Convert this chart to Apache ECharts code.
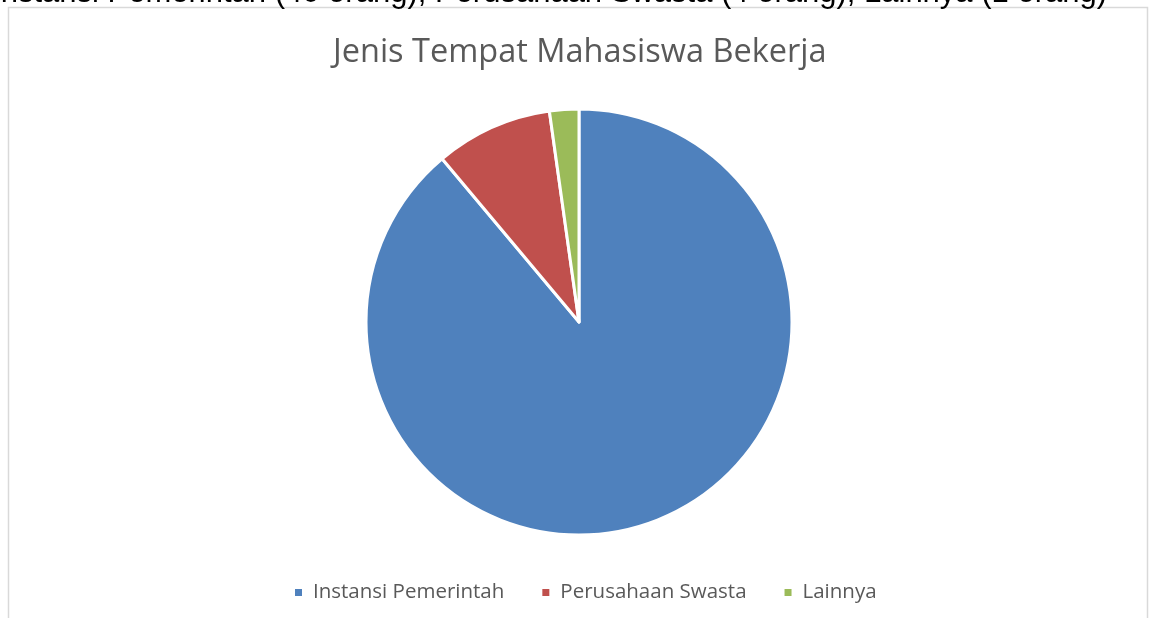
<!DOCTYPE html>
<html>
<head>
<meta charset="utf-8">
<script src="https://cdn.jsdelivr.net/npm/echarts@6/dist/echarts.min.js"></script>
<style>
html, body { margin: 0; padding: 0; background: #fff; }
#chart { width: 1149px; height: 618px; }
</style>
</head>
<body>
<div id="chart"></div>
<script>
// data
const categories = ["Instansi Pemerintah", "Perusahaan Swasta", "Lainnya"];
const values = [40, 4, 1];
const colors = ["#4f81bd", "#c0504d", "#9bbb59"];
const titleText = "Jenis Tempat Mahasiswa Bekerja";
const captionText = "Instansi Pemerintah (40 orang), Perusahaan Swasta (4 orang), Lainnya (1 orang)";

const chart = echarts.init(document.getElementById("chart"));

const option = {
    backgroundColor: "#ffffff",
    animation: false,
    title: {
        text: titleText,
        left: 328,
        top: 31,
        textStyle: {
            fontFamily: "Open Sans",
            fontSize: 32.5,
            fontWeight: "normal",
            color: "#595959",
        },
    },
    legend: {
        data: categories,
        top: 577,
        left: 288,
        icon: "rect",
        itemWidth: 9,
        itemHeight: 9,
        itemGap: 36,
        textStyle: {
            fontFamily: "Open Sans",
            fontSize: 20.5,
            color: "#595959",
            padding: [0, 0, 0, 5],
        },
    },
    graphic: [
        {
            type: "rect",
            shape: { x: 8.5, y: 7.5, width: 1139, height: 640 },
            style: { fill: "none", stroke: "#d9d9d9", lineWidth: 1.5 },
            z: -1,
        },
        {
            type: "text",
            right: 42,
            top: -22,
            style: {
                text: captionText,
                fontFamily: "Liberation Sans",
                fontSize: 31,
                fill: "#000000",
            },
        },
    ],
    series: [
        {
            type: "pie",
            center: [579, 322],
            radius: 213,
            startAngle: 90,
            clockwise: true,
            label: { show: false },
            labelLine: { show: false },
            itemStyle: { borderColor: "#ffffff", borderWidth: 3 },
            emphasis: { disabled: true },
            data: categories.map((name, i) => ({
                name,
                value: values[i],
                itemStyle: { color: colors[i] },
            })),
        },
    ],
};

chart.setOption(option);
</script>
</body>
</html>
